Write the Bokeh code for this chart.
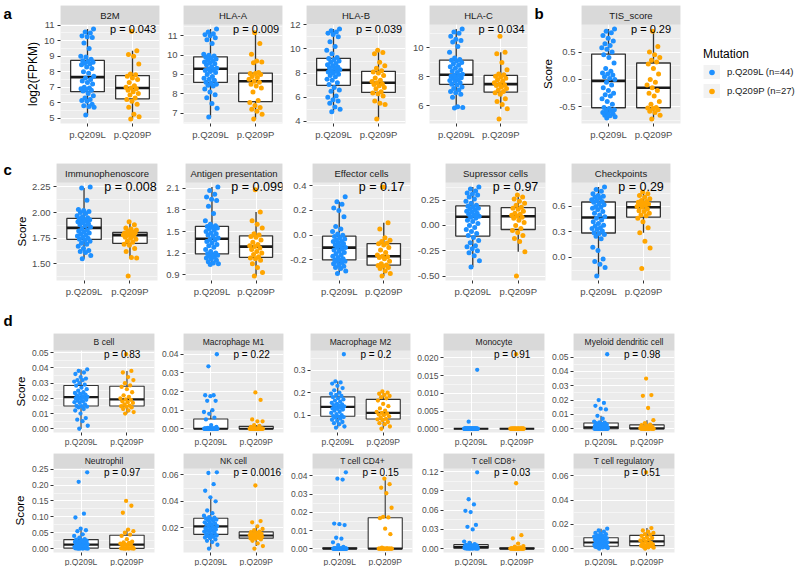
import numpy as np
from bokeh.plotting import figure
from bokeh.models import Range1d, FixedTicker, Legend, LegendItem, ColumnDataSource
from bokeh.layouts import row, column
from bokeh.embed import file_html
from bokeh.resources import INLINE
from bokeh.core.properties import value

# ---------------- data ----------------
GROUPS = ["p.Q209L", "p.Q209P"]
LEGEND_LABELS = ["p.Q209L (n=44)", "p.Q209P (n=27)"]

b2m_L = [5.2, 5.7, 5.75, 5.8, 5.9, 6.1, 6.15, 6.2, 6.3, 6.45, 6.6, 6.75, 6.8, 6.85, 6.9, 6.95, 7.0, 7.2, 7.3, 7.4, 7.5, 7.6,
         7.7, 7.9, 8.0, 8.2, 8.3, 8.45, 8.5, 8.55, 8.6, 8.65, 8.7, 8.8, 8.95, 9.0, 9.5, 9.85, 10.2, 10.25, 10.3, 10.5, 10.55, 10.75]
b2m_P = [4.95, 5.1, 5.25, 5.7, 5.9, 6.1, 6.2, 6.3, 6.5, 6.6, 6.7, 6.8, 6.9, 6.95, 7.0, 7.1, 7.3, 7.5, 7.6, 7.7, 7.8, 7.85,
         8.5, 9.0, 9.1, 9.35, 10.6]
b2m_ticks = [5, 6, 7, 8, 9, 10, 11]
b2m_labels = ["5", "6", "7", "8", "9", "10", "11"]

hlaa_L = [6.8, 7.25, 7.5, 7.8, 7.95, 8.1, 8.25, 8.4, 8.45, 8.5, 8.55, 8.6, 8.7, 8.75, 8.8, 8.9, 9.0, 9.1, 9.15, 9.2, 9.25, 9.28,
          9.32, 9.4, 9.5, 9.55, 9.6, 9.65, 9.7, 9.75, 9.8, 9.85, 9.9, 9.95, 10.0, 10.05, 10.6, 10.8, 10.9, 11.0, 11.05, 11.1, 11.2, 11.35]
hlaa_P = [6.7, 6.95, 7.1, 7.2, 7.3, 7.4, 7.55, 7.65, 8.1, 8.3, 8.4, 8.5, 8.6, 8.65, 8.75, 8.85, 8.9, 9.0, 9.05, 9.05, 9.1,
          9.6, 9.65, 9.7, 10.05, 10.6, 11.15]
hlaa_ticks = [7, 8, 9, 10, 11]
hlaa_labels = ["7", "8", "9", "10", "11"]

hlab_L = [4.8, 5.0, 5.2, 5.5, 5.7, 5.8, 6.0, 6.1, 6.5, 6.6, 6.8, 7.05, 7.2, 7.4, 7.5, 7.7, 7.8, 7.9, 8.0, 8.1, 8.15, 8.2,
          8.3, 8.4, 8.45, 8.5, 8.6, 8.7, 8.8, 8.9, 9.0, 9.1, 9.2, 9.3, 9.6, 9.9, 10.2, 10.6, 11.0, 11.2, 11.3, 11.4, 11.5, 11.65]
hlab_P = [4.2, 5.4, 5.5, 5.7, 6.1, 6.3, 6.35, 6.45, 6.7, 6.8, 6.95, 7.05, 7.1, 7.2, 7.3, 7.4, 7.6, 7.8, 8.0, 8.1, 8.2,
          8.4, 8.6, 8.9, 9.6, 9.7, 9.9]
hlab_ticks = [4, 6, 8, 10, 12]
hlab_labels = ["4", "6", "8", "10", "12"]

hlac_L = [5.85, 5.9, 5.95, 6.6, 6.8, 6.9, 7.0, 7.1, 7.2, 7.3, 7.45, 7.5, 7.6, 7.7, 7.75, 7.8, 7.9, 7.95, 8.0, 8.05, 8.1, 8.12,
          8.18, 8.3, 8.4, 8.5, 8.6, 8.7, 8.8, 8.9, 9.0, 9.1, 9.15, 9.2, 9.3, 9.7, 10.1, 10.4, 10.5, 10.6, 10.8, 11.0, 11.1, 11.3]
hlac_P = [5.1, 5.8, 6.1, 6.3, 6.5, 6.8, 6.9, 7.0, 7.1, 7.2, 7.3, 7.4, 7.45, 7.5, 7.6, 7.7, 7.8, 7.9, 8.0, 8.05, 8.15,
          8.2, 8.5, 9.0, 9.6, 9.7, 10.8]
hlac_ticks = [6, 8, 10]
hlac_labels = ["6", "8", "10"]

tis_L = [-0.70, -0.68, -0.66, -0.65, -0.63, -0.62, -0.60, -0.58, -0.57, -0.55, -0.53, -0.51, -0.45, -0.40, -0.35, -0.30,
         -0.28, -0.25, -0.20, -0.15, -0.10, -0.05, 0.00, 0.02, 0.05, 0.08, 0.10, 0.12, 0.15, 0.20, 0.30, 0.40, 0.45, 0.50,
         0.55, 0.58, 0.62, 0.65, 0.70, 0.75, 0.80, 0.85, 0.88, 0.92]
tis_P = [-0.72, -0.65, -0.60, -0.58, -0.55, -0.53, -0.52, -0.51, -0.45, -0.40, -0.30, -0.25, -0.20, -0.15, -0.10, -0.05,
         0.00, 0.10, 0.20, 0.28, 0.32, 0.35, 0.40, 0.45, 0.50, 0.60, 0.88]
tis_ticks = [-0.5, 0.0, 0.5]
tis_labels = ["-0.5", "0.0", "0.5"]

immuno_L = [1.55, 1.58, 1.61, 1.62, 1.63, 1.65, 1.67, 1.69, 1.70, 1.72, 1.73, 1.74, 1.75, 1.76, 1.77, 1.78, 1.79, 1.80, 1.81,
            1.82, 1.83, 1.84, 1.86, 1.87, 1.88, 1.89, 1.90, 1.91, 1.92, 1.92, 1.93, 1.93, 1.94, 1.95, 1.96, 1.97, 1.99, 2.00,
            2.01, 2.02, 2.03, 2.12, 2.24, 2.25]
immuno_P = [1.38, 1.555, 1.56, 1.62, 1.65, 1.68, 1.69, 1.71, 1.72, 1.74, 1.75, 1.76, 1.77, 1.78, 1.78, 1.79, 1.79, 1.80,
            1.80, 1.80, 1.81, 1.82, 1.83, 1.84, 1.85, 1.88, 1.91]
immuno_ticks = [1.5, 1.75, 2.0, 2.25]
immuno_labels = ["1.50", "1.75", "2.00", "2.25"]

antigen_L = [1.04, 1.05, 1.06, 1.08, 1.10, 1.12, 1.13, 1.15, 1.16, 1.17, 1.18, 1.19, 1.20, 1.22, 1.25, 1.28, 1.30, 1.32, 1.34,
             1.36, 1.38, 1.39, 1.41, 1.43, 1.45, 1.47, 1.48, 1.50, 1.52, 1.54, 1.55, 1.56, 1.57, 1.58, 1.60, 1.65, 1.75, 1.85,
             1.93, 1.95, 1.98, 2.02, 2.07, 2.12]
antigen_P = [0.88, 0.93, 1.00, 1.05, 1.10, 1.12, 1.13, 1.15, 1.18, 1.20, 1.22, 1.25, 1.27, 1.29, 1.30, 1.32, 1.35, 1.38,
             1.42, 1.43, 1.45, 1.47, 1.55, 1.60, 1.65, 1.77, 2.08]
antigen_ticks = [0.9, 1.2, 1.5, 1.8, 2.1]
antigen_labels = ["0.9", "1.2", "1.5", "1.8", "2.1"]

effector_L = [-0.31, -0.29, -0.27, -0.26, -0.25, -0.24, -0.23, -0.22, -0.21, -0.21, -0.20, -0.20, -0.19, -0.18, -0.17,
              -0.16, -0.15, -0.14, -0.13, -0.12, -0.11, -0.10, -0.10, -0.09, -0.08, -0.07, -0.06, -0.05, -0.05, -0.04,
              -0.03, -0.02, -0.01, 0.00, 0.01, 0.03, 0.05, 0.07, 0.15, 0.20, 0.22, 0.25, 0.27, 0.31]
effector_P = [-0.33, -0.31, -0.29, -0.27, -0.26, -0.25, -0.245, -0.24, -0.23, -0.21, -0.19, -0.18, -0.175, -0.17, -0.16,
              -0.14, -0.12, -0.10, -0.08, -0.07, -0.065, -0.05, -0.04, -0.02, 0.05, 0.10, 0.39]
effector_ticks = [-0.2, 0.0, 0.2, 0.4]
effector_labels = ["-0.2", "0.0", "0.2", "0.4"]

supp_L = [-0.41, -0.35, -0.30, -0.27, -0.25, -0.23, -0.21, -0.20, -0.17, -0.15, -0.12, -0.10, -0.08, -0.06, -0.04, -0.02,
          0.00, 0.02, 0.04, 0.05, 0.07, 0.08, 0.09, 0.10, 0.11, 0.12, 0.13, 0.14, 0.15, 0.16, 0.17, 0.18, 0.19, 0.20, 0.22,
          0.24, 0.26, 0.28, 0.30, 0.31, 0.32, 0.34, 0.36, 0.38]
supp_P = [-0.50, -0.26, -0.16, -0.13, -0.10, -0.07, -0.05, -0.03, 0.00, 0.03, 0.05, 0.07, 0.08, 0.09, 0.10, 0.11, 0.12,
          0.14, 0.16, 0.17, 0.18, 0.20, 0.22, 0.24, 0.26, 0.28, 0.30]
supp_ticks = [-0.5, -0.25, 0.0, 0.25]
supp_labels = ["-0.50", "-0.25", "0.00", "0.25"]

chk_L = [-0.22, -0.12, -0.08, -0.05, -0.02, 0.08, 0.12, 0.22, 0.25, 0.27, 0.28, 0.29, 0.31, 0.33, 0.34, 0.35, 0.37, 0.38,
         0.40, 0.42, 0.44, 0.46, 0.48, 0.50, 0.52, 0.54, 0.56, 0.58, 0.59, 0.60, 0.62, 0.63, 0.65, 0.66, 0.67, 0.68, 0.70,
         0.71, 0.72, 0.73, 0.75, 0.78, 0.80, 0.83]
chk_P = [-0.13, 0.11, 0.19, 0.29, 0.35, 0.42, 0.46, 0.49, 0.50, 0.52, 0.54, 0.55, 0.57, 0.59, 0.60, 0.61, 0.62, 0.63, 0.64,
         0.65, 0.66, 0.67, 0.69, 0.71, 0.73, 0.75, 0.77]
chk_ticks = [0.0, 0.3, 0.6]
chk_labels = ["0.0", "0.3", "0.6"]

bcell_L = [0.0, 0.002, 0.005, 0.006, 0.007, 0.010, 0.012, 0.013, 0.014, 0.0145, 0.0148, 0.015, 0.016, 0.017, 0.0175, 0.018,
           0.0185, 0.019, 0.0195, 0.020, 0.0203, 0.0206, 0.021, 0.0215, 0.022, 0.0225, 0.023, 0.0235, 0.024, 0.025, 0.026,
           0.027, 0.0283, 0.029, 0.030, 0.031, 0.032, 0.032, 0.033, 0.034, 0.036, 0.037, 0.038, 0.039]
bcell_P = [0.010, 0.011, 0.012, 0.013, 0.014, 0.0145, 0.0148, 0.0152, 0.016, 0.017, 0.0175, 0.018, 0.019, 0.0193, 0.020,
           0.021, 0.022, 0.024, 0.026, 0.0275, 0.0285, 0.030, 0.032, 0.034, 0.037, 0.038, 0.049]
bcell_ticks = [0.0, 0.01, 0.02, 0.03, 0.04, 0.05]
bcell_labels = ["0.00", "0.01", "0.02", "0.03", "0.04", "0.05"]

m1_L = [0.0, 0.0, 0.0, 0.0, 0.0, 0.0, 0.0, 0.0, 0.0, 0.0, 0.0, 0.0, 0.0, 0.0, 0.0, 0.0, 0.0, 0.0, 0.0, 0.0, 0.0, 0.0, 0.0,
        0.0, 0.0, 0.0, 0.0, 0.0, 0.0, 0.0005, 0.001, 0.002, 0.005, 0.006, 0.008, 0.009, 0.010, 0.015, 0.015, 0.0175, 0.018,
        0.018, 0.0335, 0.040]
m1_P = [0.0, 0.0, 0.0, 0.0, 0.0, 0.0, 0.0, 0.0, 0.0, 0.0, 0.0, 0.0, 0.0, 0.0, 0.0, 0.0, 0.0, 0.0, 0.0, 0.001, 0.0016, 0.002,
        0.004, 0.004, 0.005, 0.0155, 0.0195]
m1_ticks = [0.0, 0.01, 0.02, 0.03, 0.04]
m1_labels = ["0.00", "0.01", "0.02", "0.03", "0.04"]

m2_L = [0.045, 0.05, 0.06, 0.065, 0.07, 0.075, 0.08, 0.085, 0.09, 0.092, 0.094, 0.096, 0.10, 0.105, 0.11, 0.115, 0.12, 0.125,
        0.128, 0.13, 0.133, 0.135, 0.139, 0.142, 0.145, 0.148, 0.15, 0.155, 0.16, 0.165, 0.17, 0.175, 0.18, 0.185, 0.19,
        0.195, 0.20, 0.21, 0.22, 0.23, 0.24, 0.245, 0.25, 0.37]
m2_P = [0.04, 0.05, 0.06, 0.065, 0.07, 0.078, 0.082, 0.084, 0.09, 0.095, 0.10, 0.103, 0.107, 0.11, 0.115, 0.12, 0.13, 0.14,
        0.15, 0.165, 0.175, 0.18, 0.185, 0.19, 0.195, 0.20, 0.205]
m2_ticks = [0.1, 0.2, 0.3]
m2_labels = ["0.1", "0.2", "0.3"]

mono_L = [0.0, 0.0, 0.0, 0.0, 0.0, 0.0, 0.0, 0.0, 0.0, 0.0, 0.0, 0.0, 0.0, 0.0, 0.0, 0.0, 0.0, 0.0, 0.0, 0.0, 0.0, 0.0,
          0.0, 0.0, 0.0, 0.0, 0.0, 0.0, 0.0, 0.0, 0.0, 0.0, 0.0, 0.0, 0.0, 0.0, 0.0, 0.0, 0.0, 0.0, 0.0, 0.0, 0.002, 0.0166]
mono_P = [0.0, 0.0, 0.0, 0.0, 0.0, 0.0, 0.0, 0.0, 0.0, 0.0, 0.0, 0.0, 0.0, 0.0, 0.0, 0.0, 0.0, 0.0, 0.0, 0.0, 0.0, 0.0,
          0.0, 0.0, 0.0, 0.0, 0.021]
mono_ticks = [0.0, 0.005, 0.01, 0.015, 0.02]
mono_labels = ["0.000", "0.005", "0.010", "0.015", "0.020"]

myel_L = [0.0, 0.0, 0.0, 0.0, 0.0, 0.0, 0.0, 0.0, 0.0, 0.0, 0.0, 0.0, 0.0, 0.0, 0.0, 0.0002, 0.0004, 0.0005, 0.0006, 0.0007,
          0.0008, 0.0009, 0.001, 0.0012, 0.0014, 0.0016, 0.0018, 0.002, 0.0023, 0.0026, 0.003, 0.0035, 0.0039, 0.0042, 0.0045,
          0.005, 0.007, 0.009, 0.0135, 0.014, 0.016, 0.018, 0.020, 0.052]
myel_P = [0.0, 0.0, 0.0, 0.0, 0.0, 0.0, 0.0, 0.0, 0.0, 0.0, 0.0001, 0.0002, 0.0003, 0.0003, 0.0004, 0.0006, 0.001, 0.0015,
          0.002, 0.0025, 0.0029, 0.004, 0.006, 0.0145, 0.023, 0.0235, 0.035]
myel_ticks = [0.0, 0.01, 0.02, 0.03, 0.04, 0.05]
myel_labels = ["0.00", "0.01", "0.02", "0.03", "0.04", "0.05"]

neut_L = [0.0, 0.0, 0.0002, 0.0005, 0.0008, 0.001, 0.0012, 0.0013, 0.0014, 0.0015, 0.0016, 0.0018, 0.003, 0.004, 0.005,
          0.006, 0.007, 0.008, 0.009, 0.010, 0.011, 0.012, 0.014, 0.015, 0.017, 0.019, 0.020, 0.021, 0.022, 0.023, 0.025,
          0.027, 0.028, 0.030, 0.035, 0.040, 0.045, 0.055, 0.058, 0.063, 0.098, 0.110, 0.210, 0.240]
neut_P = [0.0, 0.0, 0.0003, 0.0005, 0.0007, 0.0009, 0.001, 0.0011, 0.002, 0.004, 0.008, 0.010, 0.012, 0.013, 0.016, 0.018,
          0.020, 0.022, 0.030, 0.040, 0.044, 0.050, 0.055, 0.060, 0.113, 0.135, 0.150]
neut_ticks = [0.0, 0.05, 0.1, 0.15, 0.2, 0.25]
neut_labels = ["0.00", "0.05", "0.10", "0.15", "0.20", "0.25"]

nk_L = [0.004, 0.007, 0.009, 0.010, 0.011, 0.012, 0.0125, 0.013, 0.0135, 0.014, 0.0145, 0.015, 0.016, 0.0165, 0.017, 0.0175,
        0.018, 0.0185, 0.019, 0.0195, 0.020, 0.0208, 0.0212, 0.022, 0.0225, 0.023, 0.0235, 0.024, 0.025, 0.0255, 0.026,
        0.0265, 0.027, 0.0275, 0.028, 0.029, 0.031, 0.033, 0.040, 0.043, 0.048, 0.053, 0.0615, 0.062]
nk_P = [0.004, 0.006, 0.008, 0.010, 0.011, 0.0115, 0.0118, 0.0122, 0.0125, 0.013, 0.0133, 0.0136, 0.0138, 0.014, 0.0143,
        0.0147, 0.015, 0.0155, 0.016, 0.0165, 0.017, 0.018, 0.019, 0.021, 0.024, 0.025, 0.052]
nk_ticks = [0.02, 0.04, 0.06]
nk_labels = ["0.02", "0.04", "0.06"]

cd4_L = [0.0, 0.0, 0.0, 0.0, 0.0, 0.0, 0.0, 0.0, 0.0, 0.0, 0.0, 0.0, 0.0, 0.0, 0.0, 0.0, 0.0, 0.0, 0.0, 0.0, 0.0, 0.0,
         0.0, 0.0, 0.0, 0.0, 0.0, 0.0, 0.0, 0.0, 0.0, 0.0, 0.0003, 0.001, 0.002, 0.0035, 0.0055, 0.006, 0.013, 0.0135,
         0.0138, 0.038, 0.0385, 0.042]
cd4_P = [0.0, 0.0, 0.0, 0.0, 0.0, 0.0, 0.0, 0.0, 0.0, 0.0, 0.0, 0.0, 0.0, 0.0, 0.0, 0.0002, 0.0005, 0.008, 0.011, 0.0168,
         0.0172, 0.0175, 0.0225, 0.0305, 0.0335, 0.0355, 0.0385]
cd4_ticks = [0.0, 0.01, 0.02, 0.03, 0.04]
cd4_labels = ["0.00", "0.01", "0.02", "0.03", "0.04"]

cd8_L = [0.0, 0.0, 0.0001, 0.0002, 0.0003, 0.0003, 0.0004, 0.0004, 0.0005, 0.0005, 0.0005, 0.0006, 0.0008, 0.001, 0.0012,
         0.0014, 0.0016, 0.0018, 0.002, 0.0022, 0.0024, 0.0025, 0.0026, 0.003, 0.0032, 0.0035, 0.0038, 0.004, 0.0043,
         0.0046, 0.005, 0.0055, 0.006, 0.007, 0.009, 0.011, 0.030, 0.034, 0.037, 0.057, 0.059, 0.069, 0.077, 0.119]
cd8_P = [0.0, 0.0, 0.0, 0.0, 0.0, 0.0, 0.0, 0.0, 0.0, 0.0, 0.0, 0.0, 0.0, 0.0, 0.0001, 0.0003, 0.0004, 0.0005, 0.0007,
         0.0009, 0.002, 0.003, 0.004, 0.008, 0.016, 0.021, 0.102]
cd8_ticks = [0.0, 0.03, 0.06, 0.09, 0.12]
cd8_labels = ["0.00", "0.03", "0.06", "0.09", "0.12"]

treg_L = [0.0, 0.0005, 0.001, 0.0012, 0.0014, 0.0015, 0.0016, 0.0017, 0.0018, 0.0018, 0.0019, 0.002, 0.0025, 0.003, 0.0033,
          0.0036, 0.004, 0.0042, 0.0045, 0.0047, 0.0049, 0.005, 0.0052, 0.0055, 0.006, 0.0065, 0.007, 0.0075, 0.008, 0.0083,
          0.0086, 0.0088, 0.009, 0.0093, 0.0097, 0.010, 0.0105, 0.011, 0.012, 0.0125, 0.013, 0.014, 0.015, 0.0165]
treg_P = [0.0, 0.0008, 0.0012, 0.0016, 0.002, 0.0023, 0.0024, 0.0026, 0.003, 0.0035, 0.004, 0.0045, 0.005, 0.006, 0.0068,
          0.0075, 0.008, 0.0088, 0.0095, 0.0105, 0.0115, 0.012, 0.013, 0.014, 0.015, 0.017, 0.063]
treg_ticks = [0.0, 0.02, 0.04, 0.06]
treg_labels = ["0.00", "0.02", "0.04", "0.06"]

# panel titles / p-values
ROW_A = [("B2M", b2m_L, b2m_P, b2m_ticks, b2m_labels, "p = 0.043"),
         ("HLA-A", hlaa_L, hlaa_P, hlaa_ticks, hlaa_labels, "p = 0.009"),
         ("HLA-B", hlab_L, hlab_P, hlab_ticks, hlab_labels, "p = 0.039"),
         ("HLA-C", hlac_L, hlac_P, hlac_ticks, hlac_labels, "p = 0.034")]
ROW_B = [("TIS_score", tis_L, tis_P, tis_ticks, tis_labels, "p = 0.29")]
ROW_C = [("Immunophenoscore", immuno_L, immuno_P, immuno_ticks, immuno_labels, "p = 0.008"),
         ("Antigen presentation", antigen_L, antigen_P, antigen_ticks, antigen_labels, "p = 0.099"),
         ("Effector cells", effector_L, effector_P, effector_ticks, effector_labels, "p = 0.17"),
         ("Supressor cells", supp_L, supp_P, supp_ticks, supp_labels, "p = 0.97"),
         ("Checkpoints", chk_L, chk_P, chk_ticks, chk_labels, "p = 0.29")]
ROW_D1 = [("B cell", bcell_L, bcell_P, bcell_ticks, bcell_labels, "p = 0.83"),
          ("Macrophage M1", m1_L, m1_P, m1_ticks, m1_labels, "p = 0.22"),
          ("Macrophage M2", m2_L, m2_P, m2_ticks, m2_labels, "p = 0.2"),
          ("Monocyte", mono_L, mono_P, mono_ticks, mono_labels, "p = 0.91"),
          ("Myeloid dendritic cell", myel_L, myel_P, myel_ticks, myel_labels, "p = 0.98")]
ROW_D2 = [("Neutrophil", neut_L, neut_P, neut_ticks, neut_labels, "p = 0.97"),
          ("NK cell", nk_L, nk_P, nk_ticks, nk_labels, "p = 0.0016"),
          ("T cell CD4+", cd4_L, cd4_P, cd4_ticks, cd4_labels, "p = 0.15"),
          ("T cell CD8+", cd8_L, cd8_P, cd8_ticks, cd8_labels, "p = 0.03"),
          ("T cell regulatory", treg_L, treg_P, treg_ticks, treg_labels, "p = 0.51")]

# ---------------- styles / layout ----------------
FONT = "Liberation Sans"
BLUE = "#1E90FF"
ORANGE = "#FFA500"
PANEL_BG = "#EBEBEB"
STRIP_BG = "#D9D9D9"

# (figure left, frame left, frame right, figure right) in page pixels
GEOM_A = [(40, 57, 156, 160), (160, 177, 276, 280), (280, 299, 398, 402), (402, 420, 518, 522)]
GEOM_B = [(547, 572, 671, 675)]
GEOM_C = [(29, 56, 157, 161), (161, 185, 282, 286), (286, 312, 410, 414), (414, 444, 544, 548), (548, 570, 669, 673)]
GEOM_D = [(28, 53, 154, 158), (158, 180, 280, 284), (284, 307, 407, 411), (411, 438, 539, 543), (543, 568, 669, 673)]

# row styles: page y of row top, border above frame, frame height (strip + panel), strip height, border below
ST_A = dict(y=0, top=5, frame_h=118, strip_h=19, bottom=23, tick_fs="9.5px", strip_fs="9.5px", p_fs="11px",
            p_x=1.5, pt=5, lw=1.3, mw=2.6, std=2)
ST_C = dict(y=146, top=17, frame_h=117, strip_h=19, bottom=20, tick_fs="9.5px", strip_fs="9.5px", p_fs="12.5px",
            p_x=1.44, pt=5, lw=1.3, mw=2.6, std=2)
D_LETTER_ROW = dict(y=300, h=30)
ST_D1 = dict(y=330, top=3, frame_h=99, strip_h=17, bottom=15, tick_fs="8.5px", strip_fs="8.5px", p_fs="10px",
             p_x=1.5, pt=4.3, lw=1.1, mw=2.2, std=1)
ST_D2 = dict(y=447, top=4, frame_h=99, strip_h=15, bottom=15, tick_fs="8.5px", strip_fs="8.5px", p_fs="10px",
             p_x=1.5, pt=4.3, lw=1.1, mw=2.2, std=1)

JITTER = 0.15


def jitter_offsets(n):
    # deterministic horizontal spread of the points (golden-ratio sequence)
    k = np.arange(n)
    return ((k * 0.6180339887 + 0.37) % 1.0 - 0.5) * 2 * JITTER


def box_stats(v):
    q1, med, q3 = np.percentile(v, [25, 50, 75])
    iqr = q3 - q1
    lo = v[v >= q1 - 1.5 * iqr].min()
    hi = v[v <= q3 + 1.5 * iqr].max()
    return q1, med, q3, lo, hi


def minor_ticks(ticks, y0, y1):
    step = ticks[1] - ticks[0]
    cands = [ticks[0] - step / 2] + [t + step / 2 for t in ticks]
    return [c for c in cands if y0 <= c <= y1]


def key(t):
    return int(t) if float(t).is_integer() else float(t)


def make_panel(spec, geom, st):
    title, Lv, Pv, ticks, tlabels, ptxt = spec
    fig_l, fr_l, fr_r, fig_r = geom
    L = np.asarray(Lv, float)
    P = np.asarray(Pv, float)
    allv = np.concatenate([L, P])
    lo, hi = allv.min(), allv.max()
    pad = 0.05 * (hi - lo)
    y0, y1 = lo - pad, hi + pad
    panel_h = st["frame_h"] - st["strip_h"]
    ytop = y1 + st["strip_h"] * (y1 - y0) / panel_h   # strip sits on top of the panel

    p = figure(frame_width=fr_r - fr_l, frame_height=st["frame_h"],
               min_border_left=fr_l - fig_l, min_border_right=fig_r - fr_r,
               min_border_top=st["top"], min_border_bottom=st["bottom"],
               x_range=Range1d(0.4, 2.6), y_range=Range1d(y0, ytop),
               toolbar_location=None, output_backend="svg", title=None,
               background_fill_color=PANEL_BG, border_fill_color="white",
               outline_line_color=None)

    xt = FixedTicker(ticks=[1, 2])
    yt = FixedTicker(ticks=list(ticks), minor_ticks=minor_ticks(ticks, y0, y1))
    p.xaxis.ticker = xt
    p.xgrid.ticker = xt
    p.yaxis.ticker = yt
    p.ygrid.ticker = yt
    p.xaxis.major_label_overrides = {1: GROUPS[0], 2: GROUPS[1]}
    p.yaxis.major_label_overrides = {key(t): s for t, s in zip(ticks, tlabels)}
    for ax in (p.xaxis[0], p.yaxis[0]):
        ax.axis_line_color = None
        ax.major_tick_line_color = "#333333"
        ax.major_tick_out = 3
        ax.major_tick_in = 0
        ax.minor_tick_line_color = None
        ax.major_label_text_color = "#4D4D4D"
        ax.major_label_text_font = FONT
        ax.major_label_text_font_size = st["tick_fs"]
        ax.major_label_standoff = st["std"]
    p.xgrid.grid_line_color = "white"
    p.xgrid.grid_line_width = 1.1
    p.ygrid.grid_line_color = "white"
    p.ygrid.grid_line_width = 1.1
    p.ygrid.minor_grid_line_color = "white"
    p.ygrid.minor_grid_line_width = 0.5

    # facet strip
    p.quad(left=[0.4], right=[2.6], bottom=[y1], top=[ytop], fill_color=STRIP_BG, line_color=None)
    p.text(x=[1.5], y=[(y1 + ytop) / 2], text=[title], text_align="center", text_baseline="middle",
           text_font=value(FONT), text_font_size=st["strip_fs"], text_color="#1A1A1A")

    # boxplots
    xs = [1, 2]
    stats = [box_stats(L), box_stats(P)]
    q1s = [s[0] for s in stats]
    meds = [s[1] for s in stats]
    q3s = [s[2] for s in stats]
    los = [s[3] for s in stats]
    his = [s[4] for s in stats]
    p.segment(x0=xs + xs, y0=q3s + q1s, x1=xs + xs, y1=his + los, line_color="#333333", line_width=st["lw"])
    p.vbar(x=xs, width=0.75, bottom=q1s, top=q3s, fill_color="white", line_color="#333333", line_width=st["lw"])
    p.segment(x0=[x - 0.375 for x in xs], x1=[x + 0.375 for x in xs], y0=meds, y1=meds,
              line_color="#1A1A1A", line_width=st["mw"])

    # jittered points
    p.scatter(x=1 + jitter_offsets(len(L)), y=L, size=st["pt"], fill_color=BLUE, line_color=None)
    p.scatter(x=2 + jitter_offsets(len(P)), y=P, size=st["pt"], fill_color=ORANGE, line_color=None)

    # p-value
    p.text(x=[st["p_x"]], y=[hi], text=[ptxt], text_align="left", text_baseline="middle",
           text_font=value(FONT), text_font_size=st["p_fs"], text_color="black")
    return p


def plain_figure(x_left, x_right, y_top, y_bottom, top=0, bottom=0):
    """Blank figure whose frame maps page pixels (used for letters, axis titles, legend)."""
    return figure(frame_width=x_right - x_left, frame_height=y_bottom - y_top,
                  min_border_left=0, min_border_right=0, min_border_top=top, min_border_bottom=bottom,
                  x_range=Range1d(x_left, x_right), y_range=Range1d(y_bottom, y_top),
                  x_axis_type=None, y_axis_type=None, toolbar_location=None, output_backend="svg", title=None,
                  outline_line_color=None, background_fill_color="white", border_fill_color="white")


def add_letter(g, x, y, letter):
    g.text(x=[x], y=[y], text=[letter], text_align="left", text_baseline="middle",
           text_font=value(FONT), text_font_size="15px", text_font_style="bold", text_color="black")


def make_gutter(x_left, x_right, st, letter=None, letter_y=None, ytitle=None, ytitle_x=None, ytitle_fs="11.5px"):
    fy0 = st["y"] + st["top"]
    fy1 = fy0 + st["frame_h"]
    g = plain_figure(x_left, x_right, fy0, fy1, top=st["top"], bottom=st["bottom"])
    if letter is not None:
        add_letter(g, x_left + 3, letter_y, letter)
    if ytitle is not None:
        panel_mid = fy0 + st["strip_h"] + (st["frame_h"] - st["strip_h"]) / 2
        g.text(x=[ytitle_x], y=[panel_mid], text=[ytitle], angle=np.pi / 2, text_align="center",
               text_baseline="middle", text_font=value(FONT), text_font_size=ytitle_fs, text_color="black")
    return g


def make_legend(x_left, x_right, st):
    fy0 = st["y"] + st["top"]
    fy1 = fy0 + st["frame_h"]
    lg = plain_figure(x_left, x_right, fy0, fy1, top=st["top"], bottom=st["bottom"])
    items = []
    for lab, col in zip(LEGEND_LABELS, [BLUE, ORANGE]):
        src = ColumnDataSource(dict(x=[np.nan], y=[np.nan]))
        key_bg = lg.line(x="x", y="y", source=src, line_width=17, line_color="#F2F2F2")
        dot = lg.scatter(x="x", y="y", source=src, size=5, fill_color=col, line_color=None)
        items.append(LegendItem(label=lab, renderers=[key_bg, dot]))
    leg = Legend(items=items, title="Mutation", location=(19, 23),
                 title_text_font=FONT, title_text_font_size="12px", title_text_font_style="normal",
                 title_text_color="black", title_standoff=1,
                 label_text_font=FONT, label_text_font_size="9.5px", label_text_color="#1A1A1A",
                 label_standoff=7, label_height=19, glyph_width=17, glyph_height=14, spacing=0,
                 padding=0, margin=0, border_line_color=None, background_fill_alpha=0)
    lg.add_layout(leg)
    return lg


row_a = row(make_gutter(0, 40, ST_A, letter="a", letter_y=13, ytitle="log2(FPKM)", ytitle_x=32, ytitle_fs="12px"),
            *[make_panel(s, g, ST_A) for s, g in zip(ROW_A, GEOM_A)],
            make_gutter(522, 547, ST_A, letter="b", letter_y=13, ytitle="Score", ytitle_x=538),
            *[make_panel(s, g, ST_A) for s, g in zip(ROW_B, GEOM_B)],
            make_legend(675, 800, ST_A))
row_c = row(make_gutter(0, 29, ST_C, letter="c", letter_y=169, ytitle="Score", ytitle_x=21),
            *[make_panel(s, g, ST_C) for s, g in zip(ROW_C, GEOM_C)])

d_fig = plain_figure(0, 30, D_LETTER_ROW["y"], D_LETTER_ROW["y"] + D_LETTER_ROW["h"])
add_letter(d_fig, 3, 320, "d")
row_dl = row(d_fig)

row_d1 = row(make_gutter(0, 28, ST_D1, ytitle="Score", ytitle_x=20),
             *[make_panel(s, g, ST_D1) for s, g in zip(ROW_D1, GEOM_D)])
row_d2 = row(make_gutter(0, 28, ST_D2, ytitle="Score", ytitle_x=19),
             *[make_panel(s, g, ST_D2) for s, g in zip(ROW_D2, GEOM_D)])

layout = column(row_a, row_c, row_dl, row_d1, row_d2)

open("out.html", "w").write(file_html(layout, INLINE, title="Mutation boxplots"))
